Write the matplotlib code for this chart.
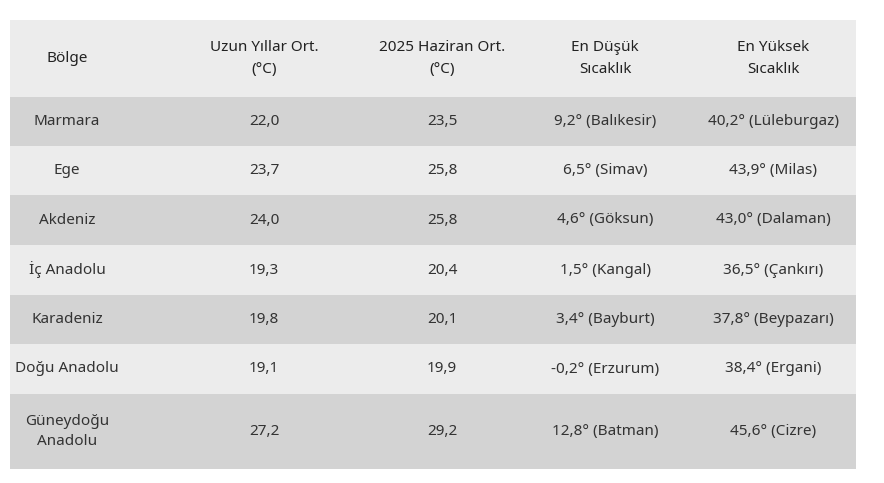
import matplotlib.pyplot as plt
from matplotlib.patches import Rectangle

headers = ["Bölge", "Uzun Yıllar Ort.\n(°C)", "2025 Haziran Ort.\n(°C)", "En Düşük\nSıcaklık", "En Yüksek\nSıcaklık"]
regions = ["Marmara", "Ege", "Akdeniz", "İç Anadolu", "Karadeniz", "Doğu Anadolu", "Güneydoğu\nAnadolu"]
long_avg = ["22,0", "23,7", "24,0", "19,3", "19,8", "19,1", "27,2"]
june_avg = ["23,5", "25,8", "25,8", "20,4", "20,1", "19,9", "29,2"]
lowest = ["9,2° (Balıkesir)", "6,5° (Simav)", "4,6° (Göksun)", "1,5° (Kangal)",
          "3,4° (Bayburt)", "-0,2° (Erzurum)", "12,8° (Batman)"]
highest = ["40,2° (Lüleburgaz)", "43,9° (Milas)", "43,0° (Dalaman)", "36,5° (Çankırı)",
           "37,8° (Beypazarı)", "38,4° (Ergani)", "45,6° (Cizre)"]

col_x = [67, 264, 442, 605, 773]
row_edges = [20, 97, 146, 195, 245, 295, 344, 394, 469]
left, right = 10, 856

plt.rcParams['font.family'] = 'Noto Sans'

fig = plt.figure(figsize=(8.84, 4.83), dpi=100)
ax = fig.add_axes([0, 0, 1, 1])
ax.set_xlim(0, 884)
ax.set_ylim(483, 0)
ax.axis('off')

# header
ax.add_patch(Rectangle((left, row_edges[0]), right - left, row_edges[1] - row_edges[0],
                       color='#ececec', lw=0))
yc = (row_edges[0] + row_edges[1]) / 2
for x, h in zip(col_x, headers):
    ax.text(x, yc, h, ha='center', va='center', fontsize=11, fontweight='bold',
            color='#222222', linespacing=1.6)

cols = [regions, long_avg, june_avg, lowest, highest]
for i in range(len(regions)):
    y0, y1 = row_edges[i + 1], row_edges[i + 2]
    color = '#d3d3d3' if i % 2 == 0 else '#ececec'
    ax.add_patch(Rectangle((left, y0), right - left, y1 - y0, color=color, lw=0))
    for x, col in zip(col_x, cols):
        ax.text(x, (y0 + y1) / 2, col[i], ha='center', va='center', fontsize=11,
                color='#333333', linespacing=1.5)

fig.savefig('out.png', dpi=100, facecolor='white')
